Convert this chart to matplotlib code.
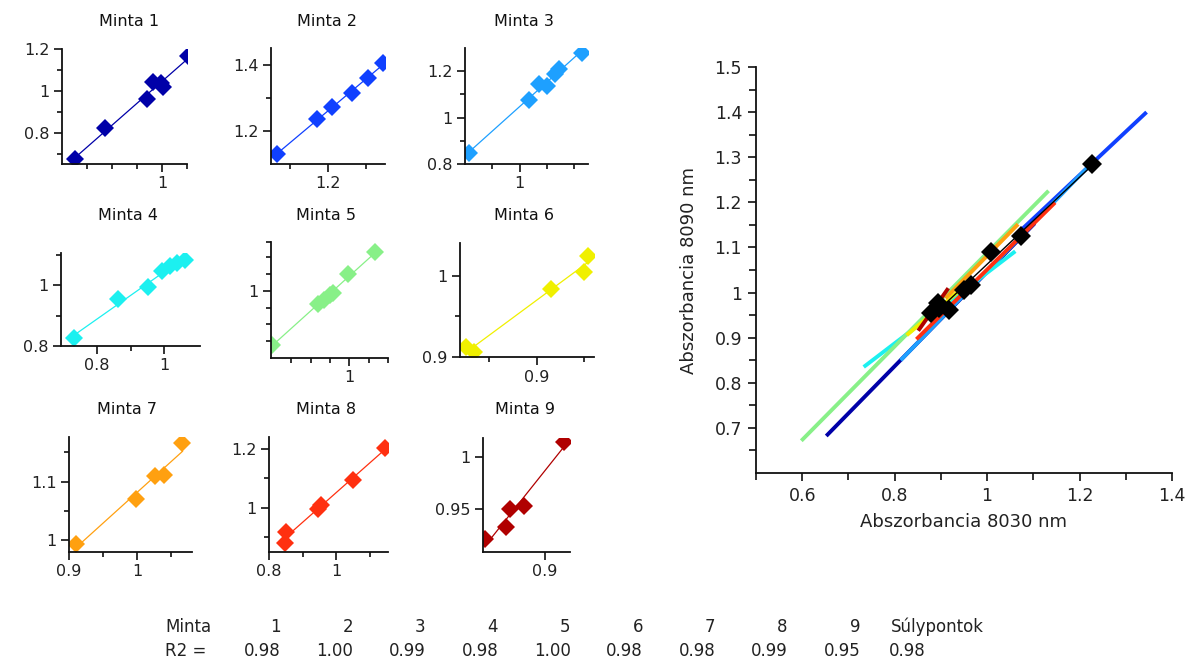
import numpy as np
import matplotlib
matplotlib.use('Agg')
import matplotlib.pyplot as plt

W, H = 1194, 666

# Minta 1..9: absorbance at 8030 nm (x) and at 8090 nm (y)
x1 = [0.652, 0.773, 0.939, 0.963, 0.996, 1.004, 1.103]
y1 = [0.675, 0.825, 0.960, 1.044, 1.037, 1.017, 1.167]
x2 = [1.066, 1.170, 1.211, 1.264, 1.304, 1.345]
y2 = [1.130, 1.237, 1.272, 1.314, 1.358, 1.405]
x3 = [0.813, 1.033, 1.070, 1.100, 1.131, 1.143, 1.228]
y3 = [0.847, 1.074, 1.145, 1.138, 1.190, 1.208, 1.279]
x4 = [0.733, 0.864, 0.951, 0.992, 1.017, 1.037, 1.061]
y4 = [0.827, 0.953, 0.995, 1.046, 1.061, 1.072, 1.083]
x5 = [0.598, 0.840, 0.869, 0.900, 0.917, 0.995, 1.133]
y5 = [0.680, 0.924, 0.944, 0.974, 0.988, 1.100, 1.230]
x6 = [0.826, 0.835, 0.915, 0.950, 0.954]
y6 = [0.912, 0.906, 0.984, 1.005, 1.024]
x7 = [0.910, 0.999, 1.026, 1.040, 1.067]
y7 = [0.993, 1.071, 1.110, 1.111, 1.166]
x8 = [0.847, 0.850, 0.947, 0.954, 1.050, 1.147]
y8 = [0.879, 0.917, 0.997, 1.008, 1.096, 1.202]
x9 = [0.851, 0.868, 0.871, 0.883, 0.916]
y9 = [0.921, 0.933, 0.950, 0.953, 1.014]

xs = [x1, x2, x3, x4, x5, x6, x7, x8, x9]
ys = [y1, y2, y3, y4, y5, y6, y7, y8, y9]
names = ['Minta %d' % (i + 1) for i in range(9)]
colors = ['#0000A8', '#1040FF', '#1EA0FF', '#1CF0F0', '#88F088',
          '#F0F000', '#FFA010', '#FF3010', '#B00000']

minta_labels = ['1', '2', '3', '4', '5', '6', '7', '8', '9']
r2_labels = ['0.98', '1.00', '0.99', '0.98', '1.00', '0.98', '0.98', '0.99', '0.95']
r2_centroid = '0.98'

# panel layout: (left, top, right, bottom) in px, xlim, ylim,
# labelled x ticks, unlabelled x ticks, labelled y ticks, unlabelled y ticks
layout = [
    ((62, 49, 187, 164), (0.6, 1.1), (0.652, 1.2),
     [1.0], [0.7, 0.8, 0.9, 1.1], [0.8, 1.0, 1.2], [0.7, 0.9, 1.1]),
    ((271, 48, 385, 164), (1.05, 1.35), (1.1, 1.45),
     [1.2], [1.1, 1.3], [1.2, 1.4], [1.3]),
    ((465, 48, 588, 164), (0.8, 1.25), (0.8, 1.3),
     [1.0], [0.9, 1.1, 1.2], [0.8, 1.0, 1.2], [0.9, 1.1]),
    ((61, 253, 200, 346), (0.695, 1.105), (0.8, 1.105),
     [0.8, 1.0], [0.9], [0.8, 1.0], [0.9, 1.1]),
    ((271, 242, 388, 358), (0.594, 1.195), (0.6, 1.29),
     [1.0], [0.7, 0.8, 0.9, 1.1, 1.2], [1.0], [0.7, 0.8, 0.9, 1.1, 1.2, 1.29]),
    ((460, 243, 594, 357), (0.82, 0.96), (0.9, 1.04),
     [0.9], [0.85, 0.95], [0.9, 1.0], [0.95]),
    ((69, 437, 192, 552), (0.9, 1.081), (0.98, 1.176),
     [0.9, 1.0], [0.95, 1.05], [1.0, 1.1], [1.05, 1.15]),
    ((269, 437, 388, 552), (0.8, 1.155), (0.849, 1.241),
     [0.8, 1.0], [0.9, 1.1], [1.0, 1.2], [0.9, 1.1]),
    ((483, 438, 570, 552), (0.849, 0.921), (0.909, 1.018),
     [0.9], [], [0.95, 1.0], []),
]
title_pos = [(129, 21), (327, 21), (524, 21),
             (128, 215), (326, 215), (524, 215),
             (127, 409), (326, 409), (525, 409)]

fig = plt.figure(figsize=(W / 100, H / 100), dpi=100)
txt = '#222222'


def px_axes(l, t, r, b):
    return fig.add_axes([l / W, 1 - b / H, (r - l) / W, (b - t) / H])


def style(ax, lw=1.3):
    for s in ['top', 'right']:
        ax.spines[s].set_visible(False)
    for s in ['left', 'bottom']:
        ax.spines[s].set_linewidth(lw)
        ax.spines[s].set_color('#111111')


for i in range(9):
    box, xl, yl, xmaj, xmin, ymaj, ymin = layout[i]
    ax = px_axes(*box)
    style(ax)
    x = np.array(xs[i])
    y = np.array(ys[i])
    k, b0 = np.polyfit(x, y, 1)
    xx = np.array([x.min(), x.max()])
    ax.plot(xx, k * xx + b0, color=colors[i], lw=0.9)
    ax.plot(x, y, 'D', color=colors[i], ms=9, mew=0)
    ax.set_xlim(*xl)
    ax.set_ylim(*yl)
    ax.set_xticks(xmaj)
    ax.set_xticklabels(['%g' % v for v in xmaj])
    ax.set_xticks(xmin, minor=True)
    ax.set_yticks(ymaj)
    ax.set_yticklabels(['%g' % v for v in ymaj])
    ax.set_yticks(ymin, minor=True)
    ax.tick_params(which='major', length=6, width=1.2, labelsize=11.5,
                   colors='#111111', labelcolor=txt, pad=3)
    ax.tick_params(which='minor', length=3.5, width=1.2, colors='#111111')
    ax.patch.set_alpha(0)
    tx, ty = title_pos[i]
    fig.text(tx / W, 1 - ty / H, names[i], ha='center', va='center',
             fontsize=11.5, color='#111111')

# combined chart with all fits and the centroids
big = px_axes(756, 67, 1172, 473)
style(big)
cx, cy = [], []
for i in range(9):
    x = np.array(xs[i])
    y = np.array(ys[i])
    k, b0 = np.polyfit(x, y, 1)
    xx = np.array([x.min(), x.max()])
    big.plot(xx, k * xx + b0, color=colors[i], lw=2.8, solid_capstyle='butt')
    cx.append(x.mean())
    cy.append(y.mean())
cx = np.array(cx)
cy = np.array(cy)
k, b0 = np.polyfit(cx, cy, 1)
xx = np.array([cx.min(), cx.max()])
big.plot(xx, k * xx + b0, color='black', lw=1.0)
big.plot(cx, cy, 'D', color='black', ms=10, mew=0)
big.set_xlim(0.5, 1.4)
big.set_ylim(0.6, 1.5)
big.set_xticks(np.arange(0.6, 1.41, 0.2))
big.set_xticklabels(['%g' % v for v in np.round(np.arange(0.6, 1.41, 0.2), 1)])
big.set_xticks(np.arange(0.5, 1.35, 0.2), minor=True)
yt = np.round(np.arange(0.7, 1.51, 0.1), 1)
big.set_yticks(yt)
big.set_yticklabels(['%g' % v for v in yt])
big.set_yticks(np.arange(0.65, 1.5, 0.1), minor=True)
big.tick_params(which='major', length=6, width=1.2, labelsize=12.5,
                colors='#111111', labelcolor=txt, pad=4)
big.tick_params(which='minor', length=5, width=1.2, colors='#111111')
big.set_xlabel('Abszorbancia 8030 nm', fontsize=13, color=txt, labelpad=6)
big.set_ylabel('Abszorbancia 8090 nm', fontsize=13, color=txt, labelpad=12)

# R2 table under the panels
row1, row2 = 627, 651
fs = 12
fig.text(165 / W, 1 - row1 / H, 'Minta', ha='left', va='center', fontsize=fs, color=txt)
fig.text(165 / W, 1 - row2 / H, 'R2 =', ha='left', va='center', fontsize=fs, color=txt)
for i in range(9):
    xr = (281 + 72.4 * i) / W
    fig.text(xr, 1 - row1 / H, minta_labels[i], ha='right', va='center',
             fontsize=fs, color=txt)
    fig.text(xr, 1 - row2 / H, r2_labels[i], ha='right', va='center',
             fontsize=fs, color=txt)
fig.text(891 / W, 1 - row1 / H, 'Súlypontok', ha='left', va='center', fontsize=fs, color=txt)
fig.text(889 / W, 1 - row2 / H, r2_centroid, ha='left', va='center', fontsize=fs, color=txt)

fig.savefig('out.png', dpi=100)
